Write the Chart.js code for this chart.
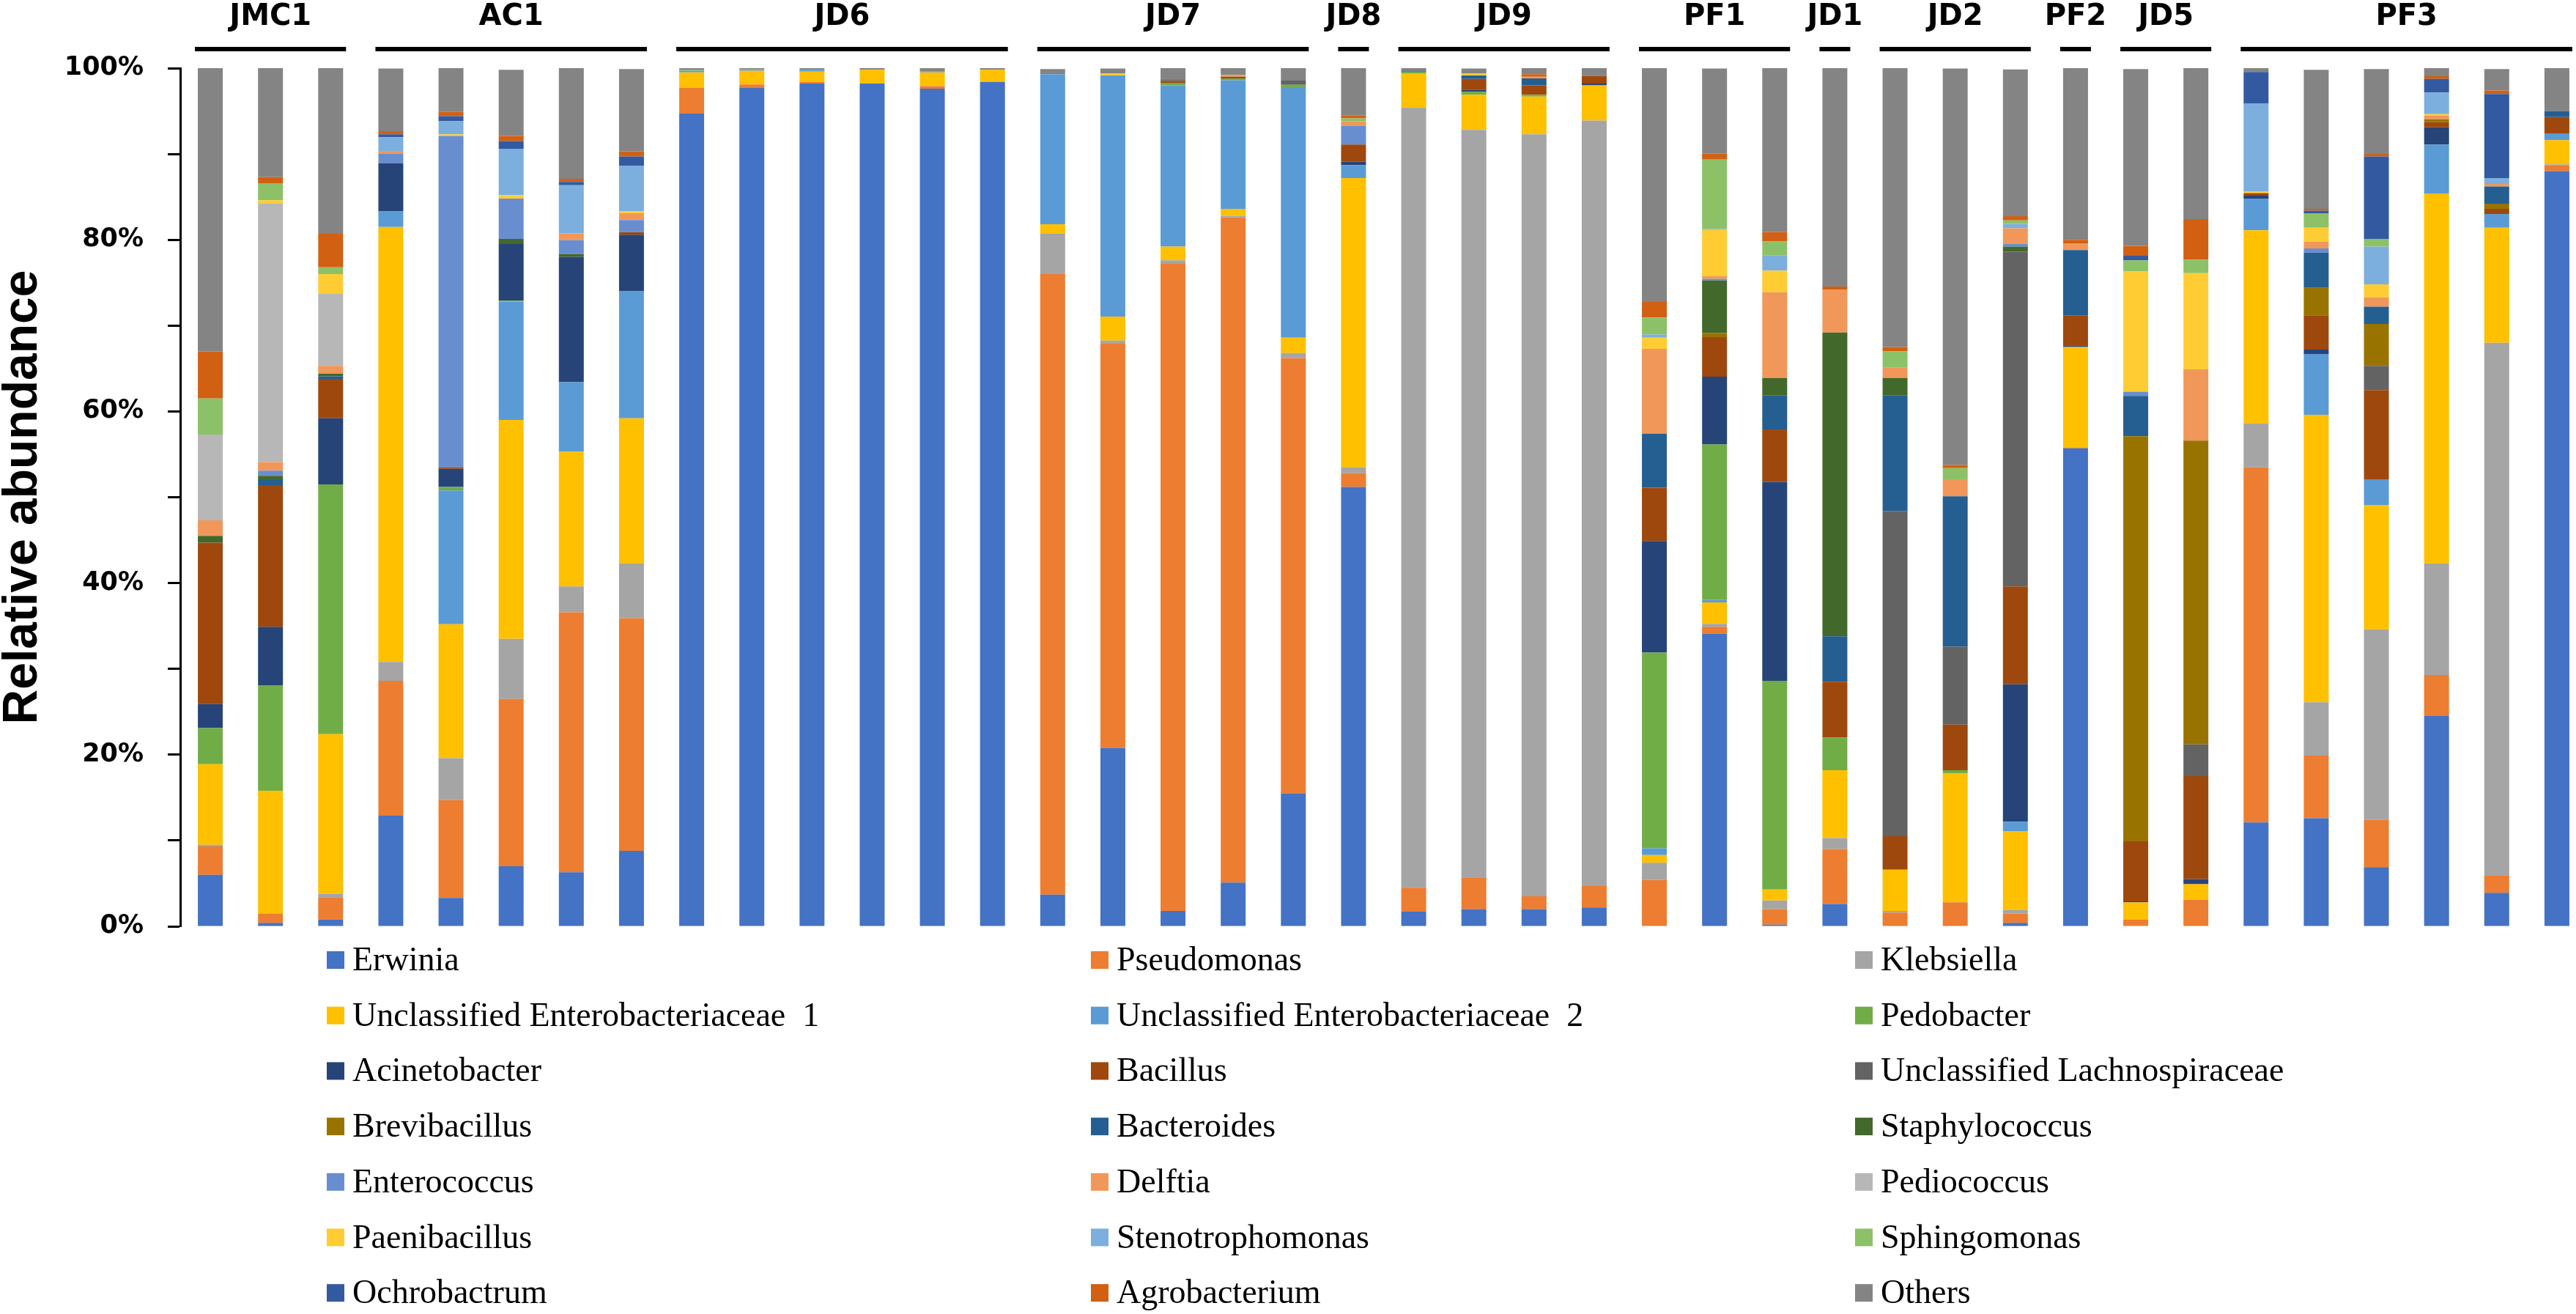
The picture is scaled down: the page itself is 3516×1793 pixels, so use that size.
<!DOCTYPE html>
<html>
<head>
<meta charset="utf-8">
<title>Relative abundance</title>
<script src="https://cdn.jsdelivr.net/npm/chart.js@4"></script>
<style>
    html, body { margin: 0; padding: 0; background: #fff; overflow: hidden; }
    #wrap { position: relative; width: 3540px; height: 1793px; }
</style>
</head>
<body>
<div id="wrap"><canvas id="chart"></canvas></div>
<script>
"use strict";

// sample groups, in order, and how many bars each has
const groupNames = ["JMC1", "AC1", "JD6", "JD7", "JD8", "JD9", "PF1", "JD1", "JD2", "PF2", "JD5", "PF3"];
const groupSizes = [3, 5, 6, 5, 1, 4, 3, 1, 3, 1, 2, 6];

const yTicks = [0, 20, 40, 60, 80, 100];

// relative abundance (%) per genus, one value per sample
const erwinia = [6.0, 0.4, 0.8, 12.9, 3.3, 7.0, 6.3, 8.8, 94.7, 97.7, 98.2, 98.2, 97.6, 98.4, 3.7, 20.8, 1.8, 5.1, 15.5, 51.2, 1.7, 2.0, 2.0, 2.2, 0, 34.1, 0.2, 2.6, 0, 0, 0.4, 55.7, 0, 0, 12.1, 12.6, 6.9, 24.5, 3.9, 88.0];
const pseudomonas = [3.3, 1.1, 2.6, 15.7, 11.4, 19.5, 30.3, 27.1, 3.0, 0.4, 0.2, 0, 0.3, 0, 72.3, 47.1, 75.4, 77.5, 50.7, 1.6, 2.8, 3.7, 1.5, 2.5, 5.4, 0.8, 1.8, 6.4, 1.6, 2.8, 1.1, 0.1, 0.8, 3.1, 41.4, 7.3, 5.5, 4.8, 2.0, 0.7];
const klebsiella = [0.2, 0, 0.4, 2.2, 4.9, 7.0, 3.0, 6.4, 0, 0, 0, 0, 0, 0, 4.7, 0.35, 0.4, 0.2, 0.6, 0.7, 90.9, 87.1, 88.8, 89.2, 2.0, 0.35, 1.0, 1.3, 0.2, 0, 0.4, 0, 0, 0, 5.1, 6.2, 22.2, 13.0, 62.1, 0.1];
const enterobacteriaceae1 = [9.4, 14.3, 18.6, 50.7, 15.6, 25.5, 15.7, 16.9, 1.8, 1.6, 1.2, 1.6, 1.6, 1.4, 1.1, 2.8, 1.6, 0.8, 1.8, 33.7, 4.0, 4.1, 4.4, 4.1, 0.9, 2.5, 1.3, 7.9, 4.8, 15.0, 9.2, 11.7, 2.0, 1.8, 22.5, 33.5, 14.5, 43.1, 13.4, 2.8];
const enterobacteriaceae2 = [0, 0, 0, 1.8, 15.6, 13.8, 8.1, 14.8, 0.2, 0.2, 0.2, 0, 0.1, 0, 17.5, 28.1, 18.8, 15.0, 29.1, 1.5, 0, 0, 0, 0, 0.8, 0.3, 0, 0, 0, 0, 1.1, 0, 0, 0, 3.7, 7.1, 3.0, 5.7, 1.6, 0.8];
const pedobacter = [4.2, 12.3, 29.1, 0, 0.4, 0.1, 0, 0, 0.1, 0, 0, 0, 0, 0, 0, 0, 0.3, 0.2, 0.35, 0, 0.2, 0.35, 0.2, 0, 22.8, 18.1, 24.3, 3.8, 0, 0.4, 0, 0, 0, 0, 0, 0, 0, 0, 0, 0];
const acinetobacter = [2.8, 6.8, 7.7, 5.6, 2.1, 6.6, 14.6, 6.6, 0, 0, 0, 0, 0, 0, 0, 0, 0, 0, 0, 0.4, 0.1, 0.2, 0, 0.2, 13.0, 7.9, 23.2, 0, 0, 0, 16.0, 0.2, 0.1, 0.6, 0.35, 0.5, 0, 2.0, 0, 0];
const bacillus = [18.8, 16.5, 4.6, 0, 0.2, 0, 0, 0.3, 0, 0, 0, 0, 0, 0, 0, 0, 0.2, 0.2, 0, 2.0, 0, 1.3, 1.1, 0.9, 6.2, 4.6, 6.1, 6.5, 3.9, 5.3, 11.4, 3.5, 7.0, 12.0, 0.3, 4.0, 10.4, 0.6, 0.6, 1.9];
const lachnospiraceae = [0, 0, 0, 0, 0, 0, 0, 0, 0, 0, 0, 0, 0, 0, 0, 0, 0.2, 0, 0.5, 0, 0, 0, 0, 0, 0, 0, 0, 0, 37.9, 9.1, 39.0, 0, 0, 3.7, 0, 0, 2.8, 0, 0, 0];
const brevibacillus = [0, 0, 0, 0, 0, 0, 0, 0, 0, 0, 0, 0, 0, 0, 0, 0, 0, 0, 0, 0, 0, 0, 0, 0, 0, 0.5, 0, 0, 0, 0, 0, 0, 47.2, 35.4, 0, 3.2, 4.9, 0.35, 0.6, 0];
const bacteroides = [0, 0.6, 0.3, 0, 0, 0, 0, 0, 0, 0, 0, 0, 0, 0, 0, 0, 0, 0, 0, 0, 0, 0.4, 0.8, 0, 6.3, 0, 4.0, 5.3, 13.5, 17.5, 0, 7.6, 4.7, 0, 0, 4.1, 2.0, 0, 2.0, 0.7];
const staphylococcus = [0.8, 0.5, 0.3, 0, 0, 0.6, 0.35, 0, 0, 0, 0, 0, 0, 0, 0, 0, 0, 0, 0, 0, 0, 0, 0, 0, 0, 6.1, 2.0, 35.4, 2.0, 0, 0.6, 0, 0, 0, 0, 0, 0, 0, 0, 0];
const enterococcus = [0, 0.6, 0, 1.1, 38.6, 4.7, 1.6, 1.4, 0, 0, 0, 0, 0, 0, 0, 0, 0, 0, 0, 2.2, 0, 0, 0, 0, 0, 0.2, 0, 0, 0, 0, 0.35, 0, 0.5, 0, 0, 0.5, 0, 0, 0, 0];
const delftia = [1.8, 1.0, 0.9, 0.35, 0, 0, 0.8, 0.8, 0, 0, 0, 0, 0, 0, 0, 0, 0, 0.2, 0, 0.5, 0, 0, 0.2, 0, 9.9, 0.3, 10.0, 5.0, 1.2, 2.0, 1.8, 0.8, 0, 8.3, 0, 0.8, 1.1, 0.4, 0.3, 0];
const pediococcus = [10.0, 30.1, 8.4, 0, 0, 0, 0, 0, 0, 0, 0, 0, 0, 0, 0, 0, 0, 0, 0, 0, 0, 0, 0, 0, 0, 0, 0, 0, 0, 0, 0, 0, 0, 0, 0, 0, 0, 0, 0, 0];
const paenibacillus = [0, 0.4, 2.3, 0, 0.2, 0.4, 0, 0.2, 0, 0, 0, 0, 0, 0, 0, 0.2, 0, 0, 0, 0, 0, 0.2, 0, 0, 1.3, 5.4, 2.5, 0, 0, 0, 0, 0, 14.0, 11.2, 0.2, 1.6, 1.5, 0.2, 0, 0];
const stenotrophomonas = [0, 0, 0, 1.6, 1.5, 5.4, 5.6, 5.3, 0, 0, 0, 0, 0, 0, 0, 0, 0, 0, 0, 0, 0, 0, 0, 0, 0.35, 0.1, 1.8, 0, 0, 0, 0.5, 0, 0, 0, 10.2, 0, 4.4, 2.5, 0.7, 0];
const sphingomonas = [4.2, 2.0, 0.8, 0, 0, 0, 0, 0, 0, 0, 0, 0, 0, 0, 0, 0, 0, 0, 0, 0.35, 0, 0, 0, 0, 2.0, 8.1, 1.6, 0, 1.9, 1.3, 0.4, 0, 1.3, 1.6, 0, 1.7, 0.9, 0, 0, 0];
const ochrobactrum = [0, 0, 0, 0.35, 0.6, 0.9, 0.4, 1.1, 0, 0, 0, 0, 0, 0, 0, 0, 0, 0, 0, 0, 0, 0, 0, 0, 0, 0, 0, 0, 0, 0, 0, 0, 0.6, 0, 3.7, 0.3, 9.6, 1.6, 9.8, 0];
const agrobacterium = [5.5, 0.7, 3.9, 0.35, 0.5, 0.6, 0.35, 0.6, 0, 0, 0, 0, 0, 0, 0, 0, 0, 0, 0, 0.35, 0, 0, 0.3, 0, 1.8, 0.7, 1.1, 0.35, 0.5, 0.35, 0.5, 0.4, 1.1, 4.7, 0, 0.2, 0.3, 0.3, 0.4, 0];
const others = [33.1, 12.7, 19.3, 7.3, 5.1, 7.7, 12.9, 9.6, 0.2, 0.1, 0.2, 0.2, 0.4, 0.2, 0.6, 0.6, 1.3, 0.8, 1.5, 5.5, 0.3, 0.6, 0.7, 0.9, 27.4, 9.9, 19.1, 25.5, 32.5, 46.2, 17.1, 20.0, 20.6, 17.7, 0.6, 16.2, 9.9, 1.0, 2.5, 5.0];

const genera = [
    ["Erwinia", erwinia, "#4472C4"],
    ["Pseudomonas", pseudomonas, "#ED7D31"],
    ["Klebsiella", klebsiella, "#A5A5A5"],
    ["Unclassified Enterobacteriaceae  1", enterobacteriaceae1, "#FFC000"],
    ["Unclassified Enterobacteriaceae  2", enterobacteriaceae2, "#5B9BD5"],
    ["Pedobacter", pedobacter, "#70AD47"],
    ["Acinetobacter", acinetobacter, "#264478"],
    ["Bacillus", bacillus, "#9E480E"],
    ["Unclassified Lachnospiraceae", lachnospiraceae, "#636363"],
    ["Brevibacillus", brevibacillus, "#997300"],
    ["Bacteroides", bacteroides, "#255E91"],
    ["Staphylococcus", staphylococcus, "#43682B"],
    ["Enterococcus", enterococcus, "#698ED0"],
    ["Delftia", delftia, "#F1975A"],
    ["Pediococcus", pediococcus, "#B7B7B7"],
    ["Paenibacillus", paenibacillus, "#FFCD33"],
    ["Stenotrophomonas", stenotrophomonas, "#7CAFDD"],
    ["Sphingomonas", sphingomonas, "#8CC168"],
    ["Ochrobactrum", ochrobactrum, "#335AA1"],
    ["Agrobacterium", agrobacterium, "#D26012"],
    ["Others", others, "#848484"]
];

function sampleLabels(names = [], sizes = []) {
    const out = [];
    names.forEach((name, i) => {
        for (let k = 1; k <= sizes[i]; k++) {
            out.push(sizes[i] > 1 ? `${name}-${k}` : name);
        }
    });
    return out;
}

// group captions with a bar under each, spanning that group's columns
const groupPlugin = {
    id: "groupHeads",
    afterDraw(chart) {
        const { ctx } = chart;
        const bars = chart.getDatasetMeta(0).data;
        let start = 0;

        ctx.save();
        ctx.fillStyle = "#000";
        ctx.strokeStyle = "#000";
        ctx.lineWidth = 6;
        ctx.font = "bold 40px 'DejaVu Sans'";
        ctx.textAlign = "center";
        ctx.textBaseline = "middle";
        groupNames.forEach((name, i) => {
            const first = bars[start];
            const last = bars[start + groupSizes[i] - 1];
            const x0 = first.x - first.width / 2 - 4;
            const x1 = last.x + last.width / 2 + 4;
            ctx.beginPath();
            ctx.moveTo(x0, 67);
            ctx.lineTo(x1, 67);
            ctx.stroke();
            ctx.fillText(name, (x0 + x1) / 2, 24);
            start += groupSizes[i];
        });
        ctx.restore();
    }
};

// three column legend under the plot
const legendPlugin = {
    id: "gridLegend",
    afterDraw(chart) {
        const { ctx } = chart;
        ctx.save();
        ctx.font = "46px 'Liberation Serif'";
        ctx.textBaseline = "middle";
        ctx.textAlign = "left";
        chart.data.datasets.forEach((ds, i) => {
            const x = 446 + (i % 3) * 1043;
            const y = 1310 + Math.floor(i / 3) * 75.7;
            ctx.fillStyle = ds.backgroundColor;
            ctx.fillRect(x, y - 12, 24, 24);
            ctx.fillStyle = "#000";
            ctx.fillText(ds.label, x + 35, y + 2);
        });
        ctx.restore();
    }
};

const ctx = document.getElementById("chart").getContext("2d");
new Chart(ctx, {
    type: "bar",
    data: {
        labels: sampleLabels(groupNames, groupSizes),
        datasets: genera.map(([label, data, color]) => ({
            label, data,
            backgroundColor: color,
            borderWidth: 0,
            barPercentage: 0.414,
            categoryPercentage: 1
        }))
    },
    options: {
        responsive: true,
        maintainAspectRatio: false,
        animation: false,
        devicePixelRatio: 1,
        layout: { padding: { top: 93, bottom: 529, left: 0, right: 9 } },
        plugins: {
            legend: { display: false },
            tooltip: { enabled: false }
        },
        scales: {
            x: {
                stacked: true,
                display: false
            },
            y: {
                stacked: true,
                min: 0,
                max: 100,
                afterFit(scale) {
                    scale.width = 246;
                },
                ticks: {
                    stepSize: 10,
                    padding: 33,
                    color: "#000",
                    font: { family: "DejaVu Sans", weight: "bold", size: 35 },
                    callback: (v) => (yTicks.includes(v) ? v + "%" : "")
                },
                grid: {
                    drawOnChartArea: false,
                    drawTicks: true,
                    tickLength: 17,
                    tickWidth: 3,
                    tickColor: "#000"
                },
                border: { display: true, color: "#000", width: 3 },
                title: {
                    display: true,
                    text: "Relative abundance",
                    color: "#000",
                    padding: { top: 0, bottom: 0 },
                    font: {
                        family: "'Liberation Sans', Arial, sans-serif",
                        weight: "bold",
                        size: 66,
                        lineHeight: 0.95
                    }
                }
            }
        }
    },
    plugins: [groupPlugin, legendPlugin]
});
</script>
</body>
</html>
